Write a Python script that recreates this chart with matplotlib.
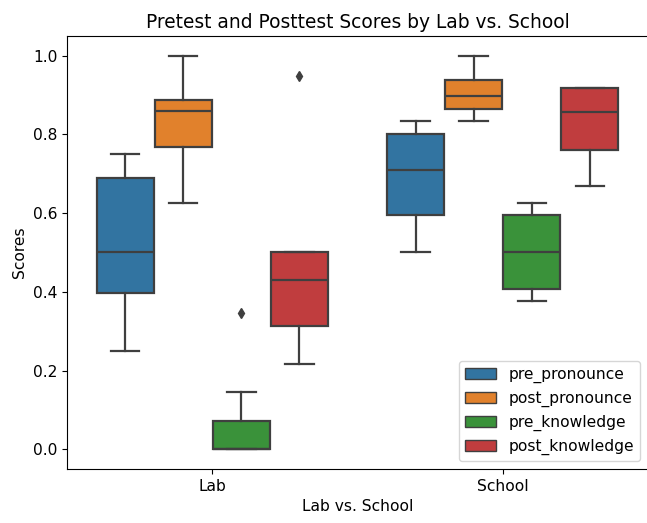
import numpy as np
import matplotlib.pyplot as plt
from matplotlib.patches import Patch

plt.rcParams['font.size'] = 11.2
plt.rcParams['axes.titlesize'] = 13.4

# box statistics per setting, one list entry per measure
settings = ['Lab', 'School']
measures = ['pre_pronounce', 'post_pronounce', 'pre_knowledge', 'post_knowledge']

lab_whislo = [0.25, 0.626, 0.0, 0.216]
lab_q1 = [0.396, 0.769, 0.0, 0.313]
lab_med = [0.50, 0.859, 0.0, 0.429]
lab_q3 = [0.690, 0.888, 0.073, 0.50]
lab_whishi = [0.75, 1.0, 0.145, 0.50]
lab_fliers = [[], [], [0.347], [0.947]]

school_whislo = [0.50, 0.835, 0.377, 0.668]
school_q1 = [0.594, 0.864, 0.406, 0.761]
school_med = [0.710, 0.897, 0.50, 0.856]
school_q3 = [0.801, 0.938, 0.594, 0.917]
school_whishi = [0.834, 1.0, 0.626, 0.917]
school_fliers = [[], [], [], []]

colors = ['#3274a1', '#e1812c', '#3a923a', '#c03d3e']
edge = '#3f3f3f'

stats_by_setting = [
    (lab_whislo, lab_q1, lab_med, lab_q3, lab_whishi, lab_fliers),
    (school_whislo, school_q1, school_med, school_q3, school_whishi, school_fliers),
]

fig = plt.figure(figsize=(6.47, 5.23), dpi=100)
ax = fig.add_axes([0.1036, 0.1033, 0.898, 0.828])

offsets = [-0.3, -0.1, 0.1, 0.3]
for i, (wlo, q1, med, q3, whi, fl) in enumerate(stats_by_setting):
    for j in range(len(measures)):
        st = [dict(whislo=wlo[j], q1=q1[j], med=med[j], q3=q3[j],
                   whishi=whi[j], fliers=fl[j])]
        ax.bxp(st, positions=[i + offsets[j]], widths=0.196,
               patch_artist=True, showfliers=True,
               boxprops=dict(facecolor=colors[j], edgecolor=edge, linewidth=1.6),
               medianprops=dict(color=edge, linewidth=1.6),
               whiskerprops=dict(color=edge, linewidth=1.6),
               capprops=dict(color=edge, linewidth=1.6),
               flierprops=dict(marker='d', markerfacecolor=edge,
                               markeredgecolor=edge, markersize=5.5))

ax.set_xlim(-0.5, 1.5)
ax.set_ylim(-0.05, 1.05)
ax.set_xticks(range(len(settings)))
ax.set_xticklabels(settings)
ax.set_yticks(np.arange(0, 1.01, 0.2))
ax.set_xlabel('Lab vs. School')
ax.set_ylabel('Scores')
ax.set_title('Pretest and Posttest Scores by Lab vs. School')

handles = [Patch(facecolor=c, edgecolor=edge, label=m) for c, m in zip(colors, measures)]
ax.legend(handles=handles, loc='lower right')

fig.savefig('out.png', dpi=100)
